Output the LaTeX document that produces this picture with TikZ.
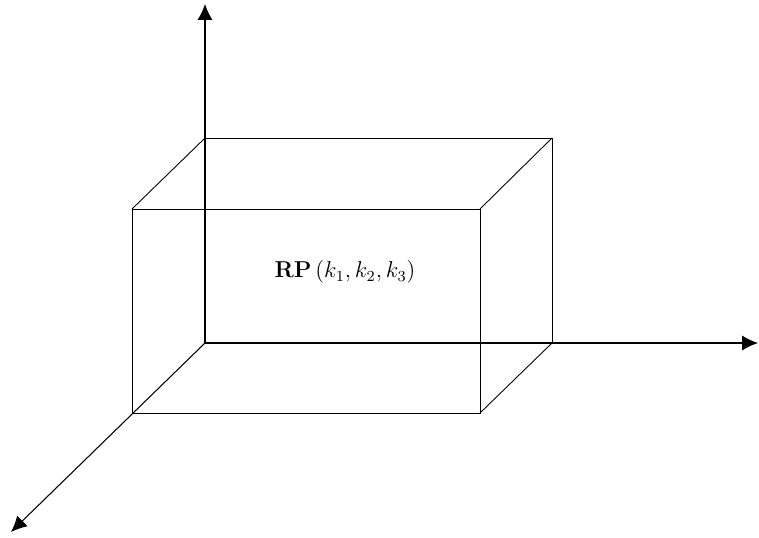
\documentclass[tikz,border=0pt]{standalone}
\usepackage{amsmath, amssymb}
\usetikzlibrary{arrows.meta, calc, positioning}

\begin{document}
\begin{tikzpicture}[x=0.02cm, y=-0.02cm, line width=0.6pt,
    axis/.style={-{Latex[length=9pt, width=8.5pt]}},
    edge/.style={line width=0.5pt}]
        \useasboundingbox (0,0) rectangle (759,537);

        % Origin and the three axis tips
        \coordinate (O) at (205,343);
        \coordinate (xtip) at (758,343);
        \coordinate (ytip) at (205,4);
        \coordinate (ztip) at (11,532);

        % Back face of the box
        \coordinate (b1) at (205,138);
        \coordinate (b2) at (552,138);
        \coordinate (b3) at (552,343);
        % Front face of the box
        \coordinate (f1) at (132,209);
        \coordinate (f2) at (480,209);
        \coordinate (f3) at (480,413);
        \coordinate (f4) at (132,413);

        % Axes
        \draw[axis] (O) -- (xtip);
        \draw[axis] (O) -- (ytip);
        \draw[axis] (O) -- (ztip);

        % Box edges
        \draw[edge] (b1) -- (b2) -- (b3);
        \draw[edge] (f1) -- (f2) -- (f3) -- (f4) -- cycle;
        \draw[edge] (f1) -- (b1);
        \draw[edge] (f2) -- (b2);
        \draw[edge] (f3) -- (b3);

        % Label of the box
        \node[font=\large, scale=1.09] (rp) at (345,272) {$\mathbf{RP}\,(k_1, k_2, k_3)$};
    \end{tikzpicture}
\end{document}
